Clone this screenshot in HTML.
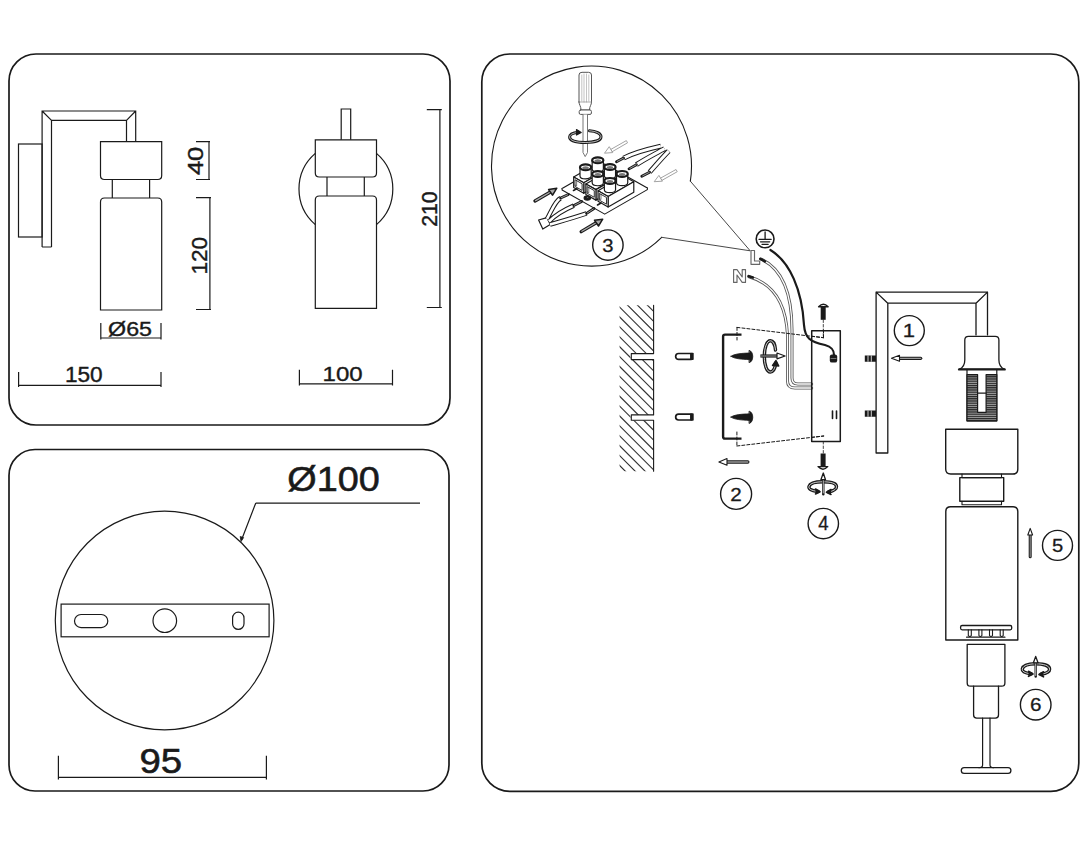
<!DOCTYPE html>
<html><head><meta charset="utf-8">
<style>
html,body{margin:0;padding:0;background:#fff;width:1088px;height:846px;overflow:hidden}
svg{display:block}
text{font-family:"Liberation Sans",sans-serif}
</style></head><body>
<svg width="1088" height="846" viewBox="0 0 1088 846">
<defs>
<pattern id="hatch" patternUnits="userSpaceOnUse" width="9.8" height="9.8" patternTransform="rotate(-45)"><line x1="0" y1="0" x2="0" y2="9.8" stroke="#1a1a1a" stroke-width="1.1"/></pattern>
<pattern id="thread" patternUnits="userSpaceOnUse" width="4" height="2.2"><rect width="4" height="2.2" fill="#a0a0a0"/><line x1="0" y1="0.6" x2="4" y2="0.6" stroke="#1a1a1a" stroke-width="1.1"/></pattern>
</defs>
<g fill="none" stroke="#1a1a1a" stroke-width="1.7">
<rect x="9" y="54" width="441" height="371" rx="27"/>
<rect x="9" y="449.5" width="440" height="341.5" rx="26"/>
<rect x="481.8" y="54" width="597" height="737.3" rx="28"/>
</g>
<g fill="none" stroke="#1a1a1a" stroke-width="1.2">
<rect x="18.5" y="144" width="23.6" height="93"/>
<path d="M42.1 247 V111 H135.7 V141.7 M51.5 247 V120.4 H126.5 V141.7 M42.1 247 H51.5 M42.1 111 L51.5 120.4 M135.7 111 L126.5 120.4"/>
<path d="M100.5 141.7 H161.7 V175.5 Q161.7 179.5 157.7 179.5 H104.5 Q100.5 179.5 100.5 175.5 Z"/>
<path d="M112.3 179.5 V198 M149.6 179.5 V198"/>
<path d="M100.5 310 V202 Q100.5 198 104.5 198 H157.7 Q161.7 198 161.7 202 V310 Z"/>
<path d="M196 141.7 H210 M209 141.7 V179.5 M196 179.5 H210"/>
<path d="M196 197.7 H211 M209.9 197.7 V309.5 M196 309.5 H211"/>
<path d="M100.8 323 V339.6 M161 323 V339.6 M100.8 338 H161"/>
<path d="M18.6 372 V387 M161 372 V387 M18.6 385.4 H161"/>
<path d="M315.3 153.4 A47 47 0 0 0 315.3 224.6 M376.5 153.4 A47 47 0 0 1 376.5 224.6"/>
<path d="M341.2 139.8 V109 H350.7 V139.8"/>
<path d="M315.3 139.8 H376.5 V173 Q376.5 177 372.5 177 H319.3 Q315.3 177 315.3 173 Z"/>
<path d="M327 177 V196 M364.3 177 V196"/>
<path d="M315.3 308.3 V200 Q315.3 196 319.3 196 H372.5 Q376.5 196 376.5 200 V308.3 Z"/>
<path d="M426.8 109.6 H441.8 M439.9 109.6 V307.5 M426.8 307.5 H441.8"/>
<path d="M299.4 369.8 V385.5 M392.5 369.8 V385.5 M299.4 383.8 H392.5"/>
</g>
<text x="0" y="0" font-size="100" transform="matrix(0 -0.25524 0.21690 0 203.383 175.110)" fill="#1a1a1a" stroke="#1a1a1a" stroke-width="1.694">40</text>
<text x="0" y="0" font-size="100" transform="matrix(0 -0.22581 0.22535 0 206.575 274.606)" fill="#1a1a1a" stroke="#1a1a1a" stroke-width="1.773">120</text>
<text x="0" y="0" font-size="100" transform="matrix(0 -0.21266 0.21549 0 436.685 226.863)" fill="#1a1a1a" stroke="#1a1a1a" stroke-width="1.868">210</text>
<text x="0" y="0" font-size="100" transform="matrix(0.23260 0 0 0.19459 108.070 336.111)" fill="#1a1a1a" stroke="#1a1a1a" stroke-width="1.873">Ø65</text>
<text x="0" y="0" font-size="100" transform="matrix(0.22645 0 0 0.21549 64.888 382.085)" fill="#1a1a1a" stroke="#1a1a1a" stroke-width="1.810">150</text>
<text x="0" y="0" font-size="100" transform="matrix(0.24000 0 0 0.19859 322.580 380.601)" fill="#1a1a1a" stroke="#1a1a1a" stroke-width="1.824">100</text>
<g fill="none" stroke="#1a1a1a" stroke-width="1.2">
<circle cx="164.6" cy="620.5" r="109.3"/>
<rect x="61.1" y="604.1" width="208" height="32.7"/>
<rect x="74.5" y="614.5" width="33.3" height="13.1" rx="6.55"/>
<circle cx="164.8" cy="620.7" r="11.8"/>
<rect x="232.6" y="612.2" width="11.4" height="17.2" rx="5.7"/>
<path d="M255.7 503.2 H420 M255.7 503.2 L241.5 540"/>
<path d="M240.2 536.5 L241 541.6 L243.6 537.6 Z" fill="#1a1a1a" stroke-width="0.8"/>
<path d="M58.4 755.7 V779.5 M266.4 755.7 V779.5 M58.4 777.3 H266.4"/>
</g>
<text x="0" y="0" font-size="100" transform="matrix(0.37806 0 0 0.34459 287.288 490.611)" fill="#1a1a1a" stroke="#1a1a1a" stroke-width="1.661">Ø100</text>
<text x="0" y="0" font-size="100" transform="matrix(0.38431 0 0 0.35493 139.378 772.945)" fill="#1a1a1a" stroke="#1a1a1a" stroke-width="1.623">95</text>
<g id="p3" fill="none" stroke="#1a1a1a" stroke-width="1.1" stroke-linejoin="round" stroke-linecap="round">
<!-- bubble -->
<path d="M690.35 181.2 A100 100 0 1 0 661.7 237.3" stroke-width="1.1"/><path d="M690.35 181.2 L750.2 250.8 L661.7 237.3" stroke-width="0.9" stroke="#333"/>
<!-- screwdriver -->
<g stroke="#555" stroke-width="1">
<path d="M579 102 V75 Q579 72.3 582 72.3 H588.5 Q591.5 72.3 591.5 75 V102 C591.5 105 589.5 106 589.5 110 H581 C581 106 579 105 579 102 Z" fill="#fff"/>
<path d="M581.8 75 V101 M584 74 V102 M586.5 74 V102 M588.8 75 V101" stroke="#aaa" stroke-width="0.7"/>
<path d="M579 102 H591.5" stroke="#888" stroke-width="0.7"/>
<rect x="579.2" y="110" width="12.2" height="4.4" rx="1.4" fill="#fff"/>
<path d="M583 114.4 V152.5 L585.2 156.6 L587.5 152.5 V114.4" fill="#fff" stroke="#777"/>
</g>
<!-- rotation ellipse around screwdriver -->
<path d="M578.5 132.3 C572 133 569.6 135 569.6 137 C569.6 140.5 576 142.5 585.2 142.5 C594 142.5 601 140.5 601 136.8 C601 133.5 596 131.2 589.5 130.8" stroke-width="3"/>
<path d="M578.5 132.3 C572 133 569.6 135 569.6 137 C569.6 140.5 576 142.5 585.2 142.5 C594 142.5 601 140.5 601 136.8 C601 133.5 596 131.2 589.5 130.8" stroke-width="0.7" stroke="#fff"/>
<path d="M576.5 129.6 L581.2 132.4 L576.5 135 Z" fill="#1a1a1a" stroke-width="1.2"/>
<!-- base plate -->
<polygon points="562.10,188.50 604.73,212.51 647.36,188.01 604.73,164.00" fill="#fff" stroke="#1a1a1a" stroke-width="1.2"/>
<polyline points="562.10,188.50 562.10,190.10 604.73,214.11 647.36,189.61 647.36,188.01" fill="#fff" stroke="#1a1a1a" stroke-width="1.1"/>
<polygon points="573.67,177.09 583.76,182.78 609.43,168.03 599.34,162.34" fill="#fff" stroke="#1a1a1a" stroke-width="1.2" stroke-linejoin="round"/>
<polygon points="583.76,193.28 609.43,178.53 609.43,168.03 583.76,182.78" fill="#fff" stroke="#1a1a1a" stroke-width="1.2" stroke-linejoin="round"/>
<polygon points="573.67,187.59 583.76,193.28 583.76,182.78 573.67,177.09" fill="#fff" stroke="#1a1a1a" stroke-width="1.2" stroke-linejoin="round"/>
<polygon points="575.32,186.62 582.11,190.44 582.11,183.75 575.32,179.92" fill="#fff" stroke="#1a1a1a" stroke-width="0.9"/>
<polyline points="575.32,185.12 576.63,185.86 576.63,180.66" fill="none" stroke="#1a1a1a" stroke-width="0.6"/>
<polygon points="585.85,183.95 595.94,189.64 621.61,174.89 611.52,169.20" fill="#fff" stroke="#1a1a1a" stroke-width="1.2" stroke-linejoin="round"/>
<polygon points="595.94,200.14 621.61,185.39 621.61,174.89 595.94,189.64" fill="#fff" stroke="#1a1a1a" stroke-width="1.2" stroke-linejoin="round"/>
<polygon points="585.85,194.45 595.94,200.14 595.94,189.64 585.85,183.95" fill="#fff" stroke="#1a1a1a" stroke-width="1.2" stroke-linejoin="round"/>
<polygon points="587.50,193.48 594.29,197.31 594.29,190.61 587.50,186.78" fill="#fff" stroke="#1a1a1a" stroke-width="0.9"/>
<polyline points="587.50,191.98 588.81,192.72 588.81,187.52" fill="none" stroke="#1a1a1a" stroke-width="0.6"/>
<polygon points="598.03,190.81 608.12,196.50 633.79,181.75 623.70,176.06" fill="#fff" stroke="#1a1a1a" stroke-width="1.2" stroke-linejoin="round"/>
<polygon points="608.12,207.00 633.79,192.25 633.79,181.75 608.12,196.50" fill="#fff" stroke="#1a1a1a" stroke-width="1.2" stroke-linejoin="round"/>
<polygon points="598.03,201.31 608.12,207.00 608.12,196.50 598.03,190.81" fill="#fff" stroke="#1a1a1a" stroke-width="1.2" stroke-linejoin="round"/>
<polygon points="599.68,200.34 606.47,204.16 606.47,197.47 599.68,193.64" fill="#fff" stroke="#1a1a1a" stroke-width="0.9"/>
<polyline points="599.68,198.84 600.99,199.58 600.99,194.38" fill="none" stroke="#1a1a1a" stroke-width="0.6"/>
<path d="M592.17 160.18 V168.98 A5.6 2.9 0 0 0 603.37 168.98 V160.18" fill="#fff" stroke="#1a1a1a" stroke-width="1.2"/>
<ellipse cx="597.77" cy="160.18" rx="5.6" ry="2.9" fill="#fff" stroke="#1a1a1a" stroke-width="2.2"/>
<ellipse cx="597.77" cy="160.68" rx="3.2" ry="1.5" fill="#777" stroke="none"/>
<path d="M604.35 167.04 V175.84 A5.6 2.9 0 0 0 615.55 175.84 V167.04" fill="#fff" stroke="#1a1a1a" stroke-width="1.2"/>
<ellipse cx="609.95" cy="167.04" rx="5.6" ry="2.9" fill="#fff" stroke="#1a1a1a" stroke-width="2.2"/>
<ellipse cx="609.95" cy="167.54" rx="3.2" ry="1.5" fill="#777" stroke="none"/>
<path d="M616.53 173.90 V182.70 A5.6 2.9 0 0 0 627.73 182.70 V173.90" fill="#fff" stroke="#1a1a1a" stroke-width="1.2"/>
<ellipse cx="622.13" cy="173.90" rx="5.6" ry="2.9" fill="#fff" stroke="#1a1a1a" stroke-width="2.2"/>
<ellipse cx="622.13" cy="174.40" rx="3.2" ry="1.5" fill="#777" stroke="none"/>
<path d="M579.99 167.18 V175.98 A5.6 2.9 0 0 0 591.19 175.98 V167.18" fill="#fff" stroke="#1a1a1a" stroke-width="1.2"/>
<ellipse cx="585.59" cy="167.18" rx="5.6" ry="2.9" fill="#fff" stroke="#1a1a1a" stroke-width="2.2"/>
<ellipse cx="585.59" cy="167.68" rx="3.2" ry="1.5" fill="#777" stroke="none"/>
<path d="M592.17 174.04 V182.84 A5.6 2.9 0 0 0 603.37 182.84 V174.04" fill="#fff" stroke="#1a1a1a" stroke-width="1.2"/>
<ellipse cx="597.77" cy="174.04" rx="5.6" ry="2.9" fill="#fff" stroke="#1a1a1a" stroke-width="2.2"/>
<ellipse cx="597.77" cy="174.54" rx="3.2" ry="1.5" fill="#777" stroke="none"/>
<path d="M604.35 180.90 V189.70 A5.6 2.9 0 0 0 615.55 189.70 V180.90" fill="#fff" stroke="#1a1a1a" stroke-width="1.2"/>
<ellipse cx="609.95" cy="180.90" rx="5.6" ry="2.9" fill="#fff" stroke="#1a1a1a" stroke-width="2.2"/>
<ellipse cx="609.95" cy="181.40" rx="3.2" ry="1.5" fill="#777" stroke="none"/>
<ellipse cx="587.3" cy="198" rx="3.2" ry="2.1" fill="#1a1a1a"/><ellipse cx="587.6" cy="197.6" rx="1.6" ry="0.9" fill="#888"/>
<path d="M573.5 190.5 L577 188.6 M597.5 205 L601 203" stroke="#1a1a1a" stroke-width="1.6"/>
<!-- left wires -->
<path d="M538.6 220 L546.9 217.6 L550.2 224.6 L542.8 229.1 Z" fill="#fff" stroke-width="1.2"/>
<g stroke-linecap="butt">
<path d="M547 219 C552 210 555 201 560.6 198.1 M549 221.5 C556 214 566 209 573.8 205.6 M550 224.5 C562 221 576 217 586.6 213.4" stroke-width="4.6"/>
<path d="M547 219 C552 210 555 201 560.6 198.1 M549 221.5 C556 214 566 209 573.8 205.6 M550 224.5 C562 221 576 217 586.6 213.4" stroke-width="2.6" stroke="#fff"/>
<path d="M560.6 198.1 L568.4 194.4 M573.8 205.6 L581.7 201.4 M586.6 213.4 L594 208.5" stroke-width="2.8" stroke-linecap="round"/>
<path d="M561 197.9 L568 194.6 M574.2 205.4 L581.3 201.6 M587 213.2 L593.6 208.8" stroke-width="0.9" stroke="#aaa"/>
</g>
<!-- right wires -->
<g stroke-linecap="butt">
<path d="M660.8 146.1 C648 149 633 153 623.6 158.1 M664.5 148.6 C655 154 645 159 636.4 164.7 M668.7 151.1 C662 158 656 165 649.6 172.2" stroke-width="5"/>
<path d="M660.8 146.1 C648 149 633 153 623.6 158.1 M664.5 148.6 C655 154 645 159 636.4 164.7 M668.7 151.1 C662 158 656 165 649.6 172.2" stroke-width="3" stroke="#fff"/>
<path d="M623.6 158.1 L616.5 161.8 M636.4 164.7 L629 168.9 M649.6 172.2 L641.8 176.3" stroke-width="2.8" stroke-linecap="round"/>
<path d="M623.6 158.1 L617 161.5 M636.4 164.7 L629.5 168.6 M649.6 172.2 L642.3 176" stroke-width="0.9" stroke="#aaa"/>
</g>
<!-- arrows black -->
<path d="M535 201 L550 192.2" stroke-width="3.4"/><path d="M535.6 200.6 L550 192.2" stroke-width="1.3" stroke="#aaa"/>
<path d="M548.6 189.6 L556.8 188.2 L552.6 195.2 Z" fill="#aaa" stroke-width="1.5"/>
<path d="M581.2 231.6 L596.2 222.8" stroke-width="3.4"/><path d="M581.8 231.2 L596.2 222.8" stroke-width="1.3" stroke="#aaa"/>
<path d="M594.5 220.2 L602.7 219.2 L598.5 226 Z" fill="#aaa" stroke-width="1.5"/>
<!-- light gray arrows -->
<g stroke="#999" stroke-width="0.9">
<path d="M626 140.8 L610.5 149.6 L612 151.8 L627.2 143 Z" fill="#fff"/><path d="M609 147 L604.5 153.2 L612.3 152.6 Z" fill="#fff"/>
<path d="M675.7 169.7 L660.2 178.3 L661.7 180.5 L676.9 171.9 Z" fill="#fff"/><path d="M658.7 175.7 L654.2 181.7 L662 181.2 Z" fill="#fff"/>
</g>
<!-- ground symbol -->
<circle cx="765.1" cy="238.9" r="8.9" stroke-width="1.6"/>
<path d="M765.1 232 V239 M759 239.3 H771.2 M760.5 241.8 H769.7 M762 244.3 H768.2" stroke-width="1.3"/>
<!-- L N outlined letters -->
<path d="M751 250.5 H754.5 V261 H759.7 V264.3 H751 Z" stroke="#666" stroke-width="1.15" fill="#fff"/>
<path d="M733.6 282.4 V269.6 H737 L742.2 277 V269.6 H745.5 V282.4 H742.2 L737 275 V282.4 Z" stroke="#666" stroke-width="1.15" fill="#fff"/>
<!-- wires L N -->
<g stroke="#555" stroke-width="3">
<path d="M761 259 C785 270 792 300 792 330 V378 Q792 384 798 384 H811.7"/>
<path d="M749 276.7 C775 284 786 305 787.5 335 V381 Q787.5 388 795 388 H811.7"/>
</g>
<g stroke="#fff" stroke-width="1.3">
<path d="M761 259 C785 270 792 300 792 330 V378 Q792 384 798 384 H811.7"/>
<path d="M749 276.7 C775 284 786 305 787.5 335 V381 Q787.5 388 795 388 H811.7"/>
</g>
<path d="M760.3 258.9 L764.9 261.3 M748.6 276.2 L752.8 277.6" stroke-width="2.6"/>
<!-- ground wire -->
<path d="M770.4 250 C790 262 802 290 804 325 C805 338 810 342 825 345 C832 347 834 350 834 355" stroke-width="2.2"/>
<rect x="829.8" y="354.4" width="7.4" height="8.2" rx="2.2" fill="#1a1a1a" stroke="none"/><path d="M831 358.5 H836" stroke="#888" stroke-width="0.8"/>
<!-- wall -->
<clipPath id="wallclip"><rect x="619.6" y="305.3" width="34" height="166"/></clipPath><path clip-path="url(#wallclip)" d="M600 238.0 L680 318.0 M600 247.9 L680 327.9 M600 257.8 L680 337.8 M600 267.7 L680 347.7 M600 277.6 L680 357.6 M600 287.5 L680 367.5 M600 297.4 L680 377.4 M600 307.3 L680 387.3 M600 317.2 L680 397.2 M600 327.1 L680 407.1 M600 337.0 L680 417.0 M600 346.9 L680 426.9 M600 356.8 L680 436.8 M600 366.7 L680 446.7 M600 376.6 L680 456.6 M600 386.5 L680 466.5 M600 396.4 L680 476.4 M600 406.3 L680 486.3 M600 416.2 L680 496.2 M600 426.1 L680 506.1 M600 436.0 L680 516.0 M600 445.9 L680 525.9 M600 455.8 L680 535.8 M600 465.7 L680 545.7 M600 475.6 L680 555.6 M600 485.5 L680 565.5 M600 495.4 L680 575.4" stroke="#333" stroke-width="1.15" stroke-linecap="butt"/>
<rect x="630.5" y="353.6" width="24" height="6" fill="#fff" stroke="none"/>
<rect x="630.5" y="414.9" width="24" height="5.5" fill="#fff" stroke="none"/>
<path d="M653.6 305.3 V353.6 H631.3 V359.6 H653.6 V414.9 H631.3 V420.2 H653.6 V471.3" stroke-width="1.1"/>
<!-- dowels -->
<g stroke-width="1.7">
<path d="M691 353.5 H678.6 A2.95 2.95 0 0 0 678.6 359.4 H691 Z" fill="#fff"/><rect x="690.4" y="352.7" width="3.3" height="7.4" rx="0.8" fill="#1a1a1a" stroke="none"/>
<path d="M691 414.1 H678.6 A2.95 2.95 0 0 0 678.6 420 H691 Z" fill="#fff"/><rect x="690.4" y="413.3" width="3.3" height="7.4" rx="0.8" fill="#1a1a1a" stroke="none"/>
</g>
<!-- bracket plate C -->
<path d="M741.5 334.6 H725 Q723.1 334.6 723.1 336.5 V436.7 Q723.1 438.6 725 438.6 H741.5" stroke-width="2.4" stroke-linecap="butt"/>
<!-- screws on plate -->
<path d="M731 356.3 C734 353.8 742 353.3 749.4 353 L749.4 359.6 C742 359.3 734 358.8 731 356.3 Z M749.4 350.4 C754 351.5 754 361.5 749.4 362.6 Z" fill="#1a1a1a" stroke-width="0.8"/>
<path d="M731 417.1 C734 414.6 742 414.1 749.4 413.8 L749.4 420.4 C742 420.1 734 419.6 731 417.1 Z M749.4 411.2 C754 412.3 754 422.3 749.4 423.4 Z" fill="#1a1a1a" stroke-width="0.8"/>
<!-- rotation icon mid -->
<path d="M775.5 350 C775 343.5 772.5 340.8 770.3 340.8 C767 340.8 764.3 347.5 764.3 356.3 C764.3 365.5 767 372 770.3 372 C772.8 372 775 369 775.8 363" stroke-width="3.4"/>
<path d="M775.5 350 C775 343.5 772.5 340.8 770.3 340.8 C767 340.8 764.3 347.5 764.3 356.3 C764.3 365.5 767 372 770.3 372 C772.8 372 775 369 775.8 363" stroke-width="0.8" stroke="#fff"/>
<path d="M772.5 365.5 L776 360.5 L778.8 366 Z" fill="#1a1a1a" stroke-width="1.4"/>
<path d="M760.4 356 H778" stroke-width="3.2" stroke-linecap="butt"/><path d="M761.2 356 H778" stroke-width="1.1" stroke="#999"/>
<path d="M777 353 L785.1 356 L777 358.9 Z" fill="#fff" stroke-width="1.2"/>
<!-- dashed -->
<path d="M737 327.4 L823.5 337.7 M736.9 446 L823.7 436 M737 327.4 V340 M736.9 432 V446 M823.5 337.7 V330" stroke-width="1" stroke-dasharray="3 2"/>
<!-- canopy -->
<rect x="811.7" y="330.8" width="28.6" height="110.6" fill="none" stroke-width="1.5"/>
<path d="M832.5 411 V418.5 M836.5 411 V418.5" stroke-width="1.6"/>
<!-- re-draw dashed over canopy -->
<path d="M811.7 336.2 L823.5 337.7 M811.7 437.4 L823.7 436" stroke-width="1" stroke-dasharray="3 2"/>
<!-- canopy screws -->
<rect x="820.7" y="306.5" width="5" height="13.3" fill="#1a1a1a" stroke="none"/><path d="M818.6 306.8 Q823.4 301.8 828.1 306.8 Z" fill="#fff" stroke-width="1.4"/>
<path d="M823.3 320 V336" stroke-width="0.8" stroke-dasharray="2.5 2"/>
<rect x="820.6" y="453.5" width="5" height="13.3" fill="#1a1a1a" stroke="none"/><path d="M818 466.6 Q823 471.8 827.7 466.6 Z" fill="#fff" stroke-width="1.4"/>
<path d="M823.3 441.5 V453" stroke-width="0.8" stroke-dasharray="2.5 2"/>
<!-- arrow 2 -->
<path d="M727 462 H747.8" stroke-width="3.4"/><path d="M727 462 H747.8" stroke-width="1.3" stroke="#999"/>
<path d="M727 458.6 L718.9 462 L727 465.3 Z" fill="#fff" stroke-width="1.1"/>
<!-- rotation icon 4 -->
<path d="M818 491.5 C810 490.5 808.5 488.5 809 486.5 C810 483 816 481.8 823 481.8 C830 481.8 836.5 483 836.5 486.8 C836.5 489.5 833 491 828.5 492" stroke-width="3.4"/>
<path d="M818 491.5 C810 490.5 808.5 488.5 809 486.5 C810 483 816 481.8 823 481.8 C830 481.8 836.5 483 836.5 486.8 C836.5 489.5 833 491 828.5 492" stroke-width="0.8" stroke="#fff"/>
<path d="M815.5 489 L820 491.8 L815.5 494" stroke-width="1.6" fill="#1a1a1a"/>
<path d="M831 489.5 L826.5 492.3 L831 494.5" stroke-width="1.6" fill="#1a1a1a"/>
<path d="M823.3 479 V494.3" stroke-width="2.4"/><path d="M823.3 480 V493" stroke-width="0.7" stroke="#fff"/>
<path d="M820.9 479.7 L823.3 473 L825.5 479.7 Z" fill="#fff" stroke-width="1.3"/>
<!-- bracket arm -->
<path d="M876.1 453 V292.1 H987.5 V334.9 M887.8 453 V303.2 H976 V334.9 M876.1 453 H887.8 M876.1 292.1 L887.8 303.2 M987.5 292.1 L976 303.2" stroke-width="1.3"/>
<path d="M864.8 358.6 H876 M864.8 413.6 H876" stroke-width="6.2" stroke-linecap="butt"/>
<path d="M868 355.5 V361.7 M871.3 355.5 V361.7 M868 410.5 V416.7 M871.3 410.5 V416.7" stroke="#fff" stroke-width="0.8" stroke-linecap="butt"/>
<!-- arrow 1 -->
<path d="M899 358.3 H920.7" stroke-width="3.2"/><path d="M899 358.3 H920.7" stroke-width="1.2" stroke="#999"/>
<path d="M899.5 355.3 L891.5 358.3 L899.5 361.3 Z" fill="#fff" stroke-width="1.1"/>
<!-- lampholder -->
<path d="M964.8 340 Q964.8 336.3 968.5 336.3 H995.2 Q998.9 336.3 998.9 340 V360 Q998.9 367 1004.6 369.4 H959.2 Q964.8 367 964.8 360 Z" fill="#fff" stroke-width="1.3"/>
<path d="M959.2 369.4 H1004.6" stroke-width="2.4"/>
<path d="M967 370 V420.8 H996.8 V370" stroke-width="1.2"/>
<path d="M967 374.7 H977.6 V412.3 H986.1 V374.7 H996.8 V420.8 H967 Z" fill="url(#thread)" stroke-width="1.2"/>
<path d="M977.6 393.1 H986.1" stroke-width="1.2"/>
<!-- shade cap -->
<path d="M945.7 429.3 H1017.8 V469 Q1017.8 474 1012.8 474 H950.7 Q945.7 474 945.7 469 Z" stroke-width="1.4"/>
<path d="M962 474 V477.6 H1001.5 V474" stroke-width="1.1"/>
<rect x="959.8" y="477.6" width="43.9" height="23.6" stroke-width="1.4"/>
<path d="M962 501.2 V504.8 H1001.5 V501.2" stroke-width="1.1"/>
<path d="M945.8 640 V511.5 Q945.8 506.8 950.5 506.8 H1013 Q1017.8 506.8 1017.8 511.5 V640 Z" stroke-width="1.4"/>
<rect x="960.6" y="625.5" width="51.1" height="4.3" rx="1.5" stroke-width="1.3"/>
<path d="M966.6 637.2 H1004.9" stroke-width="1.3"/>
<path d="M968.3 629.8 V635.5 Q969.8 637.5 971.3 635.5 V629.8 M978.9 629.8 V635.5 Q980.4 637.5 981.9 635.5 V629.8 M989.5 629.8 V635.5 Q991 637.5 992.5 635.5 V629.8 M1000.2 629.8 V635.5 Q1001.7 637.5 1003.2 635.5 V629.8" stroke-width="1.1"/>
<!-- arrow 5 -->
<path d="M1030.2 534 V556.8" stroke-width="3"/><path d="M1030.2 534 V556.8" stroke-width="1" stroke="#999"/>
<path d="M1027.8 535 L1030.2 528.4 L1032.6 535 Z" fill="#fff" stroke-width="1.1"/>
<!-- socket / bulb -->
<path d="M967.2 644.3 H1004.9 V683 Q1004.9 686.2 1001.7 686.2 H970.4 Q967.2 686.2 967.2 683 Z" stroke-width="1.3"/>
<path d="M973.6 686.2 V715 Q973.6 718.1 976.7 718.1 H995.4 Q998.5 718.1 998.5 715 V686.2" stroke-width="1.3"/>
<path d="M982.6 718.1 V765 Q982.6 767.7 979 767.7 M990 718.1 V765 Q990 767.7 993.5 767.7" stroke-width="1.2"/>
<rect x="961.3" y="767.7" width="49.6" height="5.7" rx="2.85" stroke-width="1.3"/>
<!-- rotation icon 6 -->
<path d="M1031 673.8 C1024 673 1022 671 1022.3 669 C1023 665.5 1029 663.8 1035.7 663.8 C1043 663.8 1049.6 665.5 1049.6 669.2 C1049.6 671.8 1046 673.5 1041 674.3" stroke-width="3.4"/>
<path d="M1031 673.8 C1024 673 1022 671 1022.3 669 C1023 665.5 1029 663.8 1035.7 663.8 C1043 663.8 1049.6 665.5 1049.6 669.2 C1049.6 671.8 1046 673.5 1041 674.3" stroke-width="0.8" stroke="#fff"/>
<path d="M1028.5 671.3 L1033 674 L1028.5 676.3" stroke-width="1.6" fill="#1a1a1a"/>
<path d="M1043.5 671.8 L1039 674.5 L1043.5 676.8" stroke-width="1.6" fill="#1a1a1a"/>
<path d="M1035.7 662 V676.6" stroke-width="2.4"/><path d="M1035.7 663 V675.5" stroke-width="0.7" stroke="#fff"/>
<path d="M1033.4 662.8 L1035.7 656.4 L1038 662.8 Z" fill="#fff" stroke-width="1.3"/>
</g>
<circle cx="909.3" cy="330.6" r="15" fill="none" stroke="#1a1a1a" stroke-width="1.4"/>
<text x="0" y="0" font-size="100" transform="matrix(0.22093 0 0 0.19275 902.783 337.250)" fill="#1a1a1a" stroke="#1a1a1a" stroke-width="1.450">1</text>
<circle cx="736.1" cy="493.9" r="15.5" fill="none" stroke="#1a1a1a" stroke-width="1.4"/>
<text x="0" y="0" font-size="100" transform="matrix(0.20652 0 0 0.19000 730.317 500.550)" fill="#1a1a1a" stroke="#1a1a1a" stroke-width="1.513">2</text>
<circle cx="607.9" cy="245.1" r="15.2" fill="none" stroke="#1a1a1a" stroke-width="1.4"/>
<text x="0" y="0" font-size="100" transform="matrix(0.20213 0 0 0.18732 602.341 251.563)" fill="#1a1a1a" stroke="#1a1a1a" stroke-width="1.541">3</text>
<circle cx="823.3" cy="523.6" r="15.2" fill="none" stroke="#1a1a1a" stroke-width="1.4"/>
<text x="0" y="0" font-size="100" transform="matrix(0.18627 0 0 0.19559 818.177 530.446)" fill="#1a1a1a" stroke="#1a1a1a" stroke-width="1.571">4</text>
<circle cx="1057.5" cy="545.4" r="15" fill="none" stroke="#1a1a1a" stroke-width="1.4"/>
<text x="0" y="0" font-size="100" transform="matrix(0.20213 0 0 0.19000 1051.941 551.860)" fill="#1a1a1a" stroke="#1a1a1a" stroke-width="1.530">5</text>
<circle cx="1035.7" cy="704.7" r="15.3" fill="none" stroke="#1a1a1a" stroke-width="1.4"/>
<text x="0" y="0" font-size="100" transform="matrix(0.20652 0 0 0.18732 1029.917 711.163)" fill="#1a1a1a" stroke="#1a1a1a" stroke-width="1.523">6</text>

</svg>
</body></html>
